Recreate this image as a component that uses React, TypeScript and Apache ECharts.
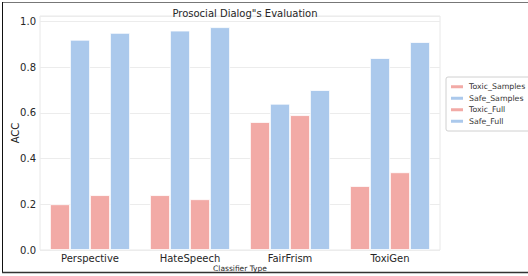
import React, { useEffect, useRef } from "react";
import * as echarts from "echarts";

const categories = ["Perspective", "HateSpeech", "FairFrism", "ToxiGen"];
const seriesNames = ["Toxic_Samples", "Safe_Samples", "Toxic_Full", "Safe_Full"];
const toxicSamples = [0.2, 0.24, 0.56, 0.28];
const safeSamples = [0.92, 0.96, 0.64, 0.84];
const toxicFull = [0.24, 0.222, 0.59, 0.34];
const safeFull = [0.95, 0.975, 0.7, 0.91];
const yTicks = [0, 0.2, 0.4, 0.6, 0.8, 1.0];

const PINK = "#f2aaa6";
const BLUE = "#abc9ec";
const FONT = "DejaVu Sans";

export default function App() {
  const ref = useRef<HTMLDivElement>(null);
  useEffect(() => {
    if (!ref.current) return;
    const chart = echarts.init(ref.current, null, { renderer: "svg" });
    const values = [toxicSamples, safeSamples, toxicFull, safeFull];
    const colors = [PINK, BLUE, PINK, BLUE];
    chart.setOption({
      animation: false,
      textStyle: { fontFamily: FONT },
      title: {
        text: "Prosocial Dialog\"s Evaluation",
        left: 240,
        top: 3,
        textAlign: "center",
        textStyle: { fontFamily: FONT, fontSize: 10, fontWeight: "normal", color: "#262626" },
      },
      legend: {
        orient: "vertical",
        left: 446,
        top: 77,
        padding: [4, 40, 4, 3],
        borderColor: "#d0d0d0",
        borderWidth: 1,
        borderRadius: 2,
        itemWidth: 14,
        itemHeight: 5,
        itemGap: 0,
        icon: "rect",
        data: seriesNames,
        textStyle: { fontFamily: FONT, fontSize: 7.8, lineHeight: 11.5, color: "#333" },
      },
      grid: {
        left: 40,
        right: 88,
        top: 16,
        bottom: 26,
        show: true,
        borderColor: "#e8e8e8",
        borderWidth: 1,
        containLabel: false,
        outerBoundsMode: "none",
      },
      xAxis: {
        type: "category",
        data: categories,
        name: "Classifier Type",
        nameLocation: "middle",
        nameGap: 14.5,
        nameMoveOverlap: false,
        nameTextStyle: { fontFamily: FONT, fontSize: 7.5, color: "#262626" },
        axisLine: { show: false },
        axisTick: { show: false },
        axisLabel: { fontFamily: FONT, fontSize: 10, color: "#262626", margin: 3 },
      },
      yAxis: {
        type: "value",
        min: 0,
        max: 1.024,
        interval: 0.2,
        name: "ACC",
        nameLocation: "middle",
        nameGap: 20,
        nameMoveOverlap: false,
        nameTextStyle: { fontFamily: FONT, fontSize: 10, color: "#262626" },
        axisLine: { show: false },
        axisTick: { show: false },
        splitLine: { lineStyle: { color: "#ececec", width: 1 } },
        axisLabel: {
          fontFamily: FONT,
          fontSize: 10,
          color: "#262626",
          margin: 4,
          showMaxLabel: false,
          formatter: (v: number) => (yTicks.some((t) => Math.abs(t - v) < 1e-9) ? v.toFixed(1) : ""),
        },
      },
      series: seriesNames.map((name, i) => ({
        name,
        type: "bar",
        data: values[i],
        barGap: "0%",
        barCategoryGap: "20%",
        itemStyle: { color: colors[i], borderColor: "#ffffff", borderWidth: 0.8 },
      })),
      graphic: [
        { type: "line", shape: { x1: 2, y1: 2.5, x2: 528, y2: 2.5 }, style: { stroke: "#777", lineWidth: 1 } },
        { type: "line", shape: { x1: 2.5, y1: 2, x2: 2.5, y2: 273 }, style: { stroke: "#111", lineWidth: 1 } },
        { type: "line", shape: { x1: 2, y1: 272.5, x2: 528, y2: 272.5 }, style: { stroke: "#333", lineWidth: 1.5 } },
      ],
    });
    return () => chart.dispose();
  }, []);
  return (
    <div
      ref={ref}
      style={{ position: "fixed", left: 0, top: 0, width: 528, height: 276, background: "#fff" }}
    />
  );
}
